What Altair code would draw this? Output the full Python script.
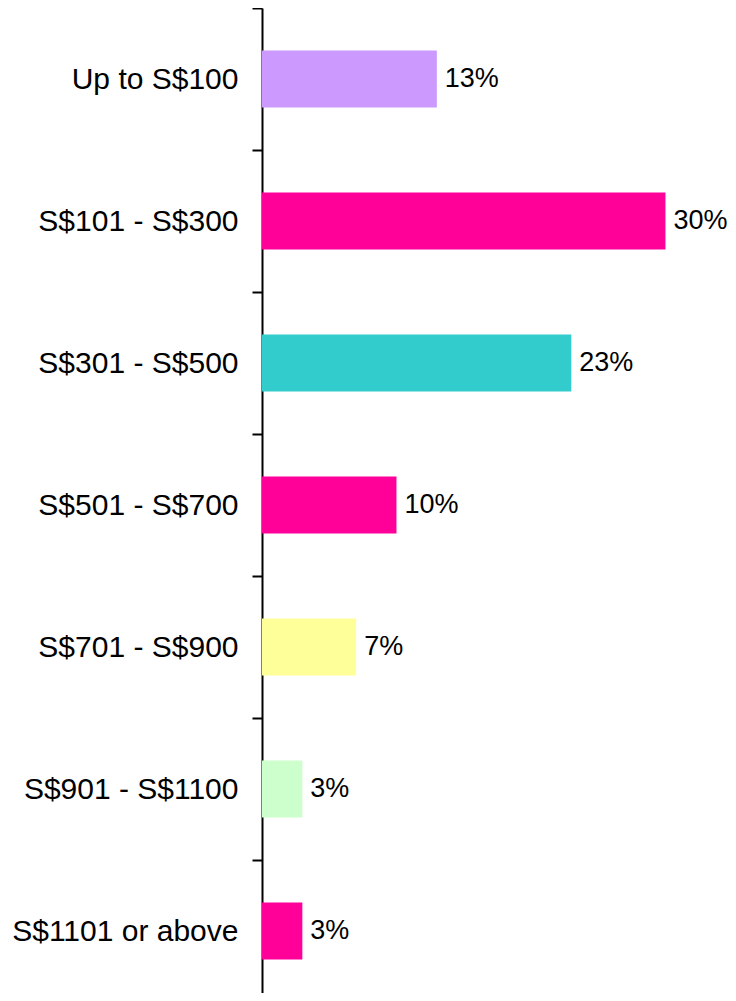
import altair as alt
import pandas as pd

categories = ["Up to S$100", "S$101 - S$300", "S$301 - S$500", "S$501 - S$700",
              "S$701 - S$900", "S$901 - S$1100", "S$1101 or above"]
values = [13, 30, 23, 10, 7, 3, 3]
labels = ["13%", "30%", "23%", "10%", "7%", "3%", "3%"]
colors = ["#CC99FF", "#FF0099", "#33CCCC", "#FF0099", "#FFFF99", "#CCFFCC", "#FF0099"]

df = pd.DataFrame({"cat": categories, "val": values, "label": labels, "color": colors})

FONT = "Liberation Sans"
STEP = 142

y_enc = alt.Y("cat:N", sort=categories,
              scale=alt.Scale(paddingInner=0.6, paddingOuter=0.3, range=[0, STEP * 7]),
              axis=alt.Axis(title=None, tickSize=10, tickWidth=2,
                            tickOffset=-STEP / 2, labelOffset=STEP / 2,
                            tickColor="black", domainColor="black", domainWidth=2,
                            labelFont=FONT, labelFontSize=30, labelColor="black",
                            labelPadding=14, labelLimit=400, grid=False))
x_enc = alt.X("val:Q", scale=alt.Scale(domain=[0, 34.65], nice=False), axis=None)

bars = alt.Chart(df).mark_bar().encode(
    x=x_enc, y=y_enc,
    color=alt.Color("color:N", scale=None, legend=None),
)
text = alt.Chart(df).mark_text(align="left", baseline="middle", dx=8,
                               font=FONT, fontSize=27, color="black").encode(
    x=x_enc, y=alt.Y("cat:N", sort=categories), text="label:N"
)

chart = (bars + text).properties(
    width=466, height=985,
    background="white",
    autosize=alt.AutoSizeParams(type="none"),
    padding={"left": 254, "top": 0, "right": 0, "bottom": 0},
).configure_view(stroke=None)

chart.save("out.html", embed_options={"renderer": "svg", "actions": False})
